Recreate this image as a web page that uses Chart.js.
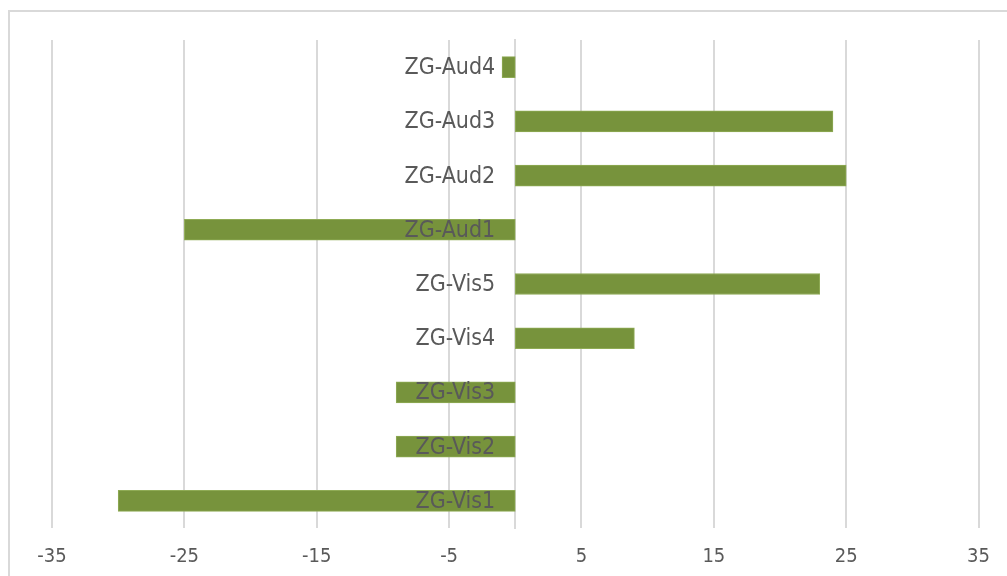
<!DOCTYPE html>
<html>
<head>
<meta charset="utf-8">
<script src="https://cdn.jsdelivr.net/npm/chart.js@4/dist/chart.umd.min.js"></script>
<style>
  html, body { margin: 0; padding: 0; background: #fff; }
  #frame { position: absolute; left: 8px; top: 10px; width: 1010px; height: 580px; border: 2px solid #d9d9d9; box-sizing: border-box; }
  #wrap { position: absolute; left: 0; top: 0; width: 1007px; height: 576px; }
</style>
</head>
<body>
<div id="frame"></div>
<div id="wrap"><canvas id="c" width="1007" height="576"></canvas></div>
<script>
const categories = ['ZG-Aud4', 'ZG-Aud3', 'ZG-Aud2', 'ZG-Aud1', 'ZG-Vis5', 'ZG-Vis4', 'ZG-Vis3', 'ZG-Vis2', 'ZG-Vis1'];
const values = [-1, 24, 25, -25, 23, 9, -9, -9, -30];
const xTicks = [-35, -25, -15, -5, 5, 15, 25, 35];

const FONT = '"DejaVu Sans Condensed", "DejaVu Sans", sans-serif';

const catLabels = {
  id: 'catLabels',
  afterDatasetsDraw(chart) {
    const { ctx, scales: { x, y } } = chart;
    const x0 = x.getPixelForValue(0);
    ctx.save();
    ctx.font = '23px ' + FONT;
    ctx.fillStyle = '#595959';
    ctx.textAlign = 'right';
    ctx.textBaseline = 'middle';
    chart.data.labels.forEach((lab, i) => {
      ctx.fillText(lab, x0 - 20, y.getPixelForValue(i) + 1);
    });
    ctx.restore();
  }
};

new Chart(document.getElementById('c'), {
  type: 'bar',
  data: {
    labels: categories,
    datasets: [{
      data: values,
      backgroundColor: '#77933C',
      borderColor: '#8fab55',
      borderWidth: 1,
      borderSkipped: false,
      barThickness: 21
    }]
  },
  options: {
    indexAxis: 'y',
    responsive: false,
    animation: false,
    layout: { padding: { left: 52, right: 13, top: 40, bottom: 0 } },
    plugins: { legend: { display: false }, tooltip: { enabled: false } },
    scales: {
      x: {
        min: -35,
        max: 35,
        afterBuildTicks: (scale) => { scale.ticks = xTicks.map(v => ({ value: v })); },
        afterFit: (scale) => { scale.height = 48; },
        grid: { color: '#d9d9d9', lineWidth: 2, drawTicks: false },
        border: { display: false },
        ticks: { color: '#595959', font: { family: FONT, size: 20 }, padding: 17, maxRotation: 0, autoSkip: false }
      },
      y: {
        position: { x: 0 },
        grid: { display: false, drawTicks: false },
        border: { display: true, color: '#d9d9d9', width: 2 },
        ticks: { display: false }
      }
    }
  },
  plugins: [catLabels]
});
</script>
</body>
</html>
